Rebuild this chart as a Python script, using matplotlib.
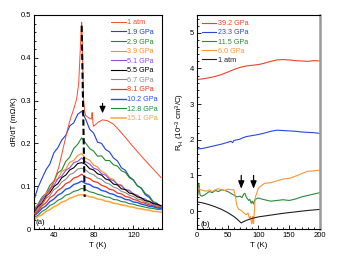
import matplotlib
matplotlib.use("Agg")
import matplotlib.pyplot as plt
from matplotlib.ticker import MultipleLocator

plt.rcParams['font.family'] = ['Liberation Sans', 'DejaVu Sans']
plt.rcParams['mathtext.fontset'] = 'custom'
plt.rcParams['mathtext.rm'] = 'Liberation Sans'
plt.rcParams['mathtext.it'] = 'Liberation Sans:italic'

# ---------------- panel (a) data ----------------
T_grid = [20, 24, 28, 32, 36, 40, 44, 48, 52, 56, 60, 64, 68, 72, 76, 80, 84, 88, 92,
          96, 100, 104, 108, 112, 116, 120, 124, 128, 132, 136, 140, 144, 148]

T_1atm = [20, 25, 30, 35, 40, 45, 48, 51, 54, 57, 60, 63, 65, 66, 67, 67.5, 68, 68.5, 69, 70,
          71, 72, 74, 76, 78, 78.5, 79, 79.5, 80, 82, 85, 89, 94, 100, 106, 112, 118, 124,
          130, 136, 142, 148]
dRdT_1atm = [0.035, 0.048, 0.065, 0.085, 0.110, 0.145, 0.175, 0.205, 0.235, 0.260, 0.280,
             0.305, 0.340, 0.390, 0.440, 0.465, 0.483, 0.450, 0.380, 0.300, 0.275, 0.265,
             0.262, 0.258, 0.257, 0.272, 0.258, 0.245, 0.240, 0.244, 0.250, 0.255, 0.253,
             0.245, 0.230, 0.214, 0.197, 0.181, 0.165, 0.150, 0.135, 0.120]

dRdT_1p9 = [0.068, 0.097, 0.118, 0.138, 0.152, 0.178, 0.190, 0.208, 0.219, 0.241, 0.248, 0.268, 0.275,
            0.257, 0.233, 0.224, 0.203, 0.200, 0.186, 0.180, 0.166, 0.159, 0.143, 0.137, 0.122,
            0.115, 0.101, 0.095, 0.080, 0.074, 0.062, 0.058, 0.050]
dRdT_2p9 = [0.046, 0.058, 0.074, 0.083, 0.102, 0.112, 0.131, 0.138, 0.158, 0.168, 0.188, 0.198, 0.213,
            0.201, 0.188, 0.182, 0.170, 0.171, 0.160, 0.160, 0.150, 0.147, 0.136, 0.132, 0.120,
            0.114, 0.101, 0.096, 0.083, 0.077, 0.064, 0.060, 0.051]
dRdT_3p9 = [0.041, 0.056, 0.066, 0.084, 0.093, 0.111, 0.118, 0.134, 0.140, 0.156, 0.160, 0.172, 0.176,
            0.165, 0.161, 0.149, 0.145, 0.134, 0.130, 0.119, 0.116, 0.105, 0.103, 0.092, 0.090,
            0.080, 0.078, 0.069, 0.067, 0.059, 0.058, 0.051, 0.050]
dRdT_5p1 = [0.043, 0.054, 0.070, 0.079, 0.094, 0.102, 0.117, 0.124, 0.137, 0.143, 0.155, 0.158, 0.166,
            0.157, 0.152, 0.142, 0.139, 0.129, 0.126, 0.116, 0.113, 0.104, 0.101, 0.092, 0.090,
            0.082, 0.079, 0.072, 0.070, 0.063, 0.061, 0.056, 0.055]
dRdT_5p5 = [0.037, 0.052, 0.061, 0.076, 0.085, 0.099, 0.106, 0.120, 0.126, 0.138, 0.143, 0.153, 0.155,
            0.151, 0.141, 0.138, 0.129, 0.126, 0.117, 0.114, 0.105, 0.103, 0.094, 0.092, 0.084,
            0.082, 0.075, 0.073, 0.066, 0.065, 0.059, 0.058, 0.054]
dRdT_6p7 = [0.035, 0.049, 0.057, 0.071, 0.078, 0.092, 0.098, 0.110, 0.116, 0.127, 0.131, 0.140, 0.142,
            0.138, 0.130, 0.127, 0.119, 0.116, 0.108, 0.105, 0.098, 0.095, 0.088, 0.085, 0.079,
            0.076, 0.070, 0.068, 0.062, 0.060, 0.056, 0.054, 0.051]
dRdT_8p1 = [0.034, 0.042, 0.054, 0.061, 0.073, 0.079, 0.090, 0.096, 0.106, 0.110, 0.119, 0.122, 0.128,
            0.121, 0.118, 0.111, 0.109, 0.102, 0.099, 0.093, 0.091, 0.084, 0.082, 0.076, 0.074,
            0.069, 0.067, 0.062, 0.060, 0.056, 0.054, 0.051, 0.050]
dRdT_10p2 = [0.031, 0.038, 0.048, 0.054, 0.064, 0.070, 0.079, 0.084, 0.093, 0.096, 0.104, 0.107, 0.112,
             0.106, 0.104, 0.098, 0.096, 0.090, 0.088, 0.083, 0.081, 0.076, 0.074, 0.069, 0.068,
             0.063, 0.062, 0.058, 0.056, 0.053, 0.052, 0.049, 0.048]
dRdT_12p8 = [0.027, 0.032, 0.041, 0.046, 0.055, 0.059, 0.067, 0.071, 0.079, 0.082, 0.088, 0.090, 0.095,
             0.092, 0.087, 0.085, 0.081, 0.079, 0.075, 0.074, 0.069, 0.068, 0.064, 0.063, 0.059,
             0.058, 0.055, 0.053, 0.051, 0.049, 0.048, 0.046, 0.045]
dRdT_15p1 = [0.021, 0.029, 0.033, 0.041, 0.045, 0.052, 0.056, 0.063, 0.066, 0.072, 0.075, 0.079, 0.080,
             0.079, 0.075, 0.074, 0.070, 0.069, 0.065, 0.064, 0.060, 0.059, 0.056, 0.055, 0.052,
             0.051, 0.048, 0.047, 0.045, 0.044, 0.041, 0.041, 0.039]

labels_a = ['1 atm', '1.9 GPa', '2.9 GPa', '3.9 GPa', '5.1 GPa', '5.5 GPa', '6.7 GPa',
            '8.1 GPa', '10.2 GPa', '12.8 GPa', '15.1 GPa']
colors_a = ['#FF4A2A', '#1F3FE0', '#1E8A2E', '#FF8C2A', '#8A4FE8', '#000000', '#8C8C8C',
            '#F2351F', '#2450F0', '#1E8A3A', '#FFA53A']
widths_a = [0.7, 0.8, 0.8, 0.8, 0.8, 0.8, 0.8, 0.9, 1.0, 0.8, 1.1]

peak_T = [68, 71]
peak_v = [0.475, 0.075]

# ---------------- panel (b) data ----------------
T_392 = [0, 10, 20, 30, 40, 50, 60, 65, 70, 80, 90, 100, 110, 120, 130, 140, 150, 160, 170, 180, 190, 200]
RH_392 = [3.69, 3.71, 3.74, 3.78, 3.83, 3.90, 3.97, 4.00, 4.03, 4.07, 4.09, 4.11, 4.15, 4.20,
          4.24, 4.25, 4.24, 4.22, 4.21, 4.20, 4.22, 4.21]
T_233 = [0, 10, 20, 30, 40, 50, 55, 58, 60, 65, 70, 75, 80, 90, 100, 110, 120, 130, 140, 150,
         160, 170, 180, 190, 200]
RH_233 = [1.74, 1.76, 1.80, 1.84, 1.88, 1.93, 1.96, 1.92, 1.98, 2.00, 2.02, 2.06, 2.09, 2.12,
          2.15, 2.19, 2.24, 2.27, 2.26, 2.25, 2.24, 2.22, 2.21, 2.20, 2.18]
T_115 = [0, 2, 3, 4, 5, 8, 12, 16, 20, 25, 30, 35, 40, 45, 50, 55, 60, 65, 70, 73, 76, 78, 80,
         84, 86, 88, 90, 92, 94, 97, 100, 105, 110, 120, 130, 140, 150, 160, 170, 180, 190, 200]
RH_115 = [0.42, 0.50, 0.75, 0.60, 0.45, 0.42, 0.45, 0.50, 0.55, 0.52, 0.58, 0.55, 0.60, 0.58,
          0.55, 0.50, 0.45, 0.40, 0.42, 0.38, 0.48, 0.50, 0.40, 0.30, 0.33, 0.22, 0.28, 0.20,
          0.32, 0.35, 0.37, 0.34, 0.32, 0.28, 0.30, 0.32, 0.30, 0.34, 0.40, 0.44, 0.48, 0.52]
T_60 = [1, 2, 5, 10, 15, 20, 25, 30, 35, 40, 45, 50, 55, 60, 63, 65, 68, 72, 76, 80, 83, 85,
        87, 89, 90, 91, 92, 93, 94, 95, 97, 100, 105, 110, 120, 130, 140, 150, 160, 170, 180, 190, 200]
RH_60 = [0.45, 0.66, 0.60, 0.58, 0.56, 0.60, 0.55, 0.60, 0.63, 0.60, 0.58, 0.62, 0.60, 0.60,
         0.35, 0.15, 0.05, 0.02, -0.05, -0.10, -0.05, -0.20, -0.15, -0.35, -0.30, -0.15, -0.35,
         -0.10, 0.20, 0.40, 0.50, 0.65, 0.72, 0.78, 0.80, 0.85, 0.90, 0.92, 0.98, 1.05, 1.12,
         1.13, 1.15]
T_b1atm = [0, 10, 20, 30, 40, 50, 60, 65, 70, 72, 75, 80, 90, 100, 120, 140, 160, 180, 200]
RH_b1atm = [0.26, 0.23, 0.18, 0.12, 0.05, -0.04, -0.15, -0.22, -0.30, -0.33, -0.30, -0.26,
            -0.20, -0.16, -0.11, -0.06, -0.02, 0.02, 0.05]

labels_b = ['39.2 GPa', '23.3 GPa', '11.5 GPa', '6.0 GPa', '1 atm']
colors_b = ['#F0402A', '#2A48E0', '#2A8A3A', '#FF9438', '#222222']

arrow_a_T = 89
arrows_b_T = [72, 92]

fs = 5.2

fig = plt.figure(figsize=(3.39, 2.61), dpi=100)
axA = fig.add_axes([0.1003, 0.1226, 0.378, 0.82])
axB = fig.add_axes([0.581, 0.1226, 0.363, 0.82])

series_a = [dRdT_1p9, dRdT_2p9, dRdT_3p9, dRdT_5p1, dRdT_5p5, dRdT_6p7, dRdT_8p1,
            dRdT_10p2, dRdT_12p8, dRdT_15p1]
handles = []
h, = axA.plot(T_1atm, dRdT_1atm, color=colors_a[0], lw=widths_a[0], label=labels_a[0], zorder=3)
handles.append(h)
for i, ys in enumerate(series_a):
    h, = axA.plot(T_grid, ys, color=colors_a[i + 1], lw=widths_a[i + 1], label=labels_a[i + 1], zorder=2)
    handles.append(h)
axA.plot(peak_T, peak_v, color='black', lw=1.5, ls=(0, (3, 1.5)), zorder=5)
axA.annotate('', xy=(arrow_a_T, 0.264), xytext=(arrow_a_T, 0.300),
             arrowprops=dict(arrowstyle='-|>,head_width=0.18,head_length=0.4', color='black', lw=0.8))
axA.set_xlim(20, 149)
axA.set_ylim(0, 0.5)
axA.xaxis.set_major_locator(MultipleLocator(40))
axA.xaxis.set_minor_locator(MultipleLocator(5))
axA.yaxis.set_major_locator(MultipleLocator(0.1))
axA.yaxis.set_minor_locator(MultipleLocator(0.02))
axA.set_yticks([0, 0.1, 0.2, 0.3, 0.4, 0.5])
axA.set_yticklabels(['0', '0.1', '0.2', '0.3', '0.4', '0.5'])
axA.set_xlabel('T (K)', fontsize=fs + 0.5, labelpad=2)
axA.set_ylabel('dR/dT (m\u03a9/K)', fontsize=fs + 0.5, labelpad=2)
axA.text(22, 0.012, '(a)', fontsize=fs + 0.5)
leg = axA.legend(handles=handles, loc='upper right', frameon=False, fontsize=fs,
                 handlelength=2.0, handletextpad=0.2, labelspacing=0.35,
                 borderaxespad=0.2, labelcolor='linecolor')

# panel b
axB.plot(T_392, RH_392, color=colors_b[0], lw=0.8, label=labels_b[0])
axB.plot(T_233, RH_233, color=colors_b[1], lw=0.8, label=labels_b[1])
axB.plot(T_115, RH_115, color=colors_b[2], lw=0.8, label=labels_b[2])
axB.plot(T_60, RH_60, color=colors_b[3], lw=0.8, label=labels_b[3])
axB.plot(T_b1atm, RH_b1atm, color=colors_b[4], lw=0.8, label=labels_b[4])
for tx in arrows_b_T:
    axB.annotate('', xy=(tx, 0.55), xytext=(tx, 1.08),
                 arrowprops=dict(arrowstyle='-|>,head_width=0.18,head_length=0.45', color='black', lw=0.9))
axB.set_xlim(0, 200)
axB.set_ylim(-0.5, 5.5)
axB.xaxis.set_major_locator(MultipleLocator(50))
axB.xaxis.set_minor_locator(MultipleLocator(10))
axB.yaxis.set_major_locator(MultipleLocator(1))
axB.yaxis.set_minor_locator(MultipleLocator(0.2))
axB.set_xlabel('T (K)', fontsize=fs + 0.5, labelpad=2)
axB.set_ylabel('R$_\\mathrm{H}$ (10$^{-3}$ cm$^{3}$/C)', fontsize=fs + 0.5, labelpad=2)
axB.text(5, -0.42, '(b)', fontsize=fs + 0.5)
axB.legend(loc='upper left', frameon=False, fontsize=fs, handlelength=2.0,
           handletextpad=0.2, labelspacing=0.3, borderaxespad=0.3, labelcolor='linecolor')
axB.spines['right'].set_color('#999999')
axB.spines['right'].set_linewidth(1.8)

for ax in (axA, axB):
    ax.tick_params(which='both', direction='in', labelsize=fs + 0.3, pad=2, width=0.6)
    ax.tick_params(which='major', length=3)
    ax.tick_params(which='minor', length=1.5)
    for s in ('left', 'bottom', 'top'):
        ax.spines[s].set_linewidth(0.8)
axA.spines['right'].set_linewidth(0.8)

fig.savefig('out.png', dpi=100)
